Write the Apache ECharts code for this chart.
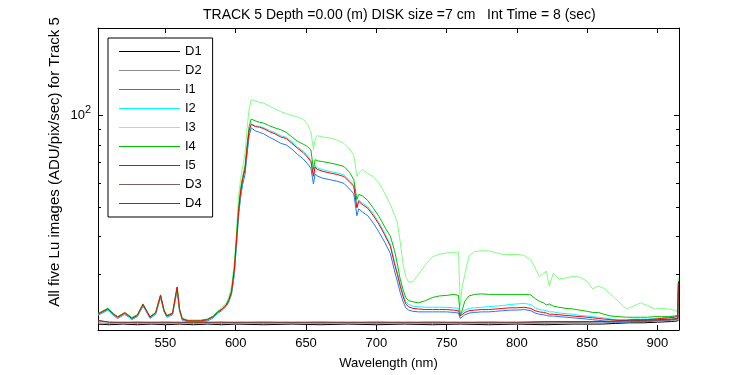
<!DOCTYPE html>
<html>
<head>
<meta charset="utf-8">
<script src="https://cdn.jsdelivr.net/npm/echarts@6/dist/echarts.min.js"></script>
<style>html,body{margin:0;padding:0;background:#fff}#c{width:750px;height:375px}</style>
</head>
<body>
<div id="c"></div>
<script>
var wl = [502,505,509,513,516,519,521,524,526,530,
534,536,539,543,546.5,549,551,555,558.3,560,
562,566,570,575,580,584,587,590,593,595,
597,599,600.6,602,603.5,605,606.6,608,609.5,611,
614,617,620,624,628,632,636,640,644,648,
651,653.5,655.3,656.5,658,662,667,672,677,681,
684,686.2,687.5,690,694,698,702,706,710,713,
715,717,719,721,723,726,730,735,740,745,
750,755,758.5,759.8,761,763,766,770,775,780,
785,790,795,800,805,810,813,816,819,821,
823,826,830,835,840,845,850,854,858,862,
867,872,878,883,888,893,898,903,908,912,
914.5,915];

var i5 = [22.2,22.6,23.1,22.2,21.7,22.1,22.4,21.9,21.5,22.0,
23.9,23.0,21.7,22.4,25.6,22.8,21.9,22.3,27.2,23.0,
21.4,21.1,21.1,21.1,21.3,21.8,22.5,23.0,23.7,24.6,
26.2,31.0,39.1,48.0,56.0,62.0,66.4,77.0,89.0,93.5,
92.0,91.5,90.5,88.5,87.0,85.0,84.0,81.0,78.0,75.5,
73.0,70.5,63.1,67.7,66.5,65.5,64.7,64.0,63.0,60.5,
58.5,49.7,52.2,51.0,49.5,46.8,43.8,40.5,37.2,32.5,
30.0,27.5,25.5,24.0,23.5,23.2,23.1,23.0,23.0,23.0,
23.0,22.9,22.8,21.9,22.2,22.5,22.8,22.9,23.0,23.0,
23.1,23.2,23.3,23.3,23.4,23.2,22.8,22.6,22.5,22.4,
22.2,22.2,22.1,22.0,21.9,21.8,21.7,21.6,21.5,21.4,
21.3,21.2,21.2,21.3,21.3,21.3,21.4,21.5,21.6,21.7,
21.8,28.5];

var i2 = [22.1,22.5,23.0,22.1,21.6,22.0,22.3,21.8,21.4,21.9,
23.8,22.9,21.6,22.3,25.4,22.7,21.8,22.2,26.8,22.9,
21.3,21.0,21.0,21.0,21.2,21.7,22.4,22.9,23.6,24.5,
26.0,30.5,38.5,47.5,55.5,61.5,66.5,77.5,89.5,94.0,
92.5,92.0,91.2,89.2,87.8,85.8,84.8,81.8,78.8,76.3,
73.8,71.2,63.5,68.5,67.3,66.3,65.5,64.8,63.8,61.3,
59.3,50.2,52.8,51.6,50.1,47.4,44.4,41.0,37.7,33.0,
30.4,27.9,25.9,24.4,23.9,23.6,23.5,23.4,23.4,23.4,
23.4,23.3,23.2,22.1,22.5,22.9,23.2,23.3,23.4,23.5,
23.6,23.7,23.9,24.0,24.1,23.9,23.3,23.0,22.9,22.8,
22.6,22.6,22.4,22.3,22.2,22.0,21.9,21.8,21.7,21.6,
21.4,21.3,21.3,21.4,21.4,21.4,21.5,21.6,21.7,21.8,
21.9,28.2];

var i1 = [22.0,22.4,22.9,22.0,21.5,21.9,22.2,21.7,21.3,21.8,
23.6,22.8,21.5,22.2,25.2,22.6,21.7,22.1,26.6,22.8,
21.2,21.0,21.0,21.0,21.1,21.6,22.3,22.8,23.5,24.3,
25.8,30.0,37.8,46.5,54.0,59.5,64.0,74.0,85.5,91.0,
89.0,88.0,87.0,84.8,83.0,81.0,80.0,77.5,74.5,72.0,
69.5,67.0,59.5,64.3,63.2,62.2,61.5,60.8,59.8,57.3,
55.3,46.8,49.3,48.2,46.8,44.2,41.3,38.3,35.2,30.8,
28.5,26.2,24.5,23.3,22.9,22.7,22.6,22.6,22.6,22.6,
22.6,22.5,22.4,21.5,21.8,22.1,22.4,22.5,22.6,22.6,
22.7,22.8,22.9,22.9,23.0,22.8,22.4,22.2,22.1,22.0,
21.9,21.9,21.8,21.7,21.6,21.5,21.4,21.3,21.2,21.1,
21.0,20.9,20.9,21.0,21.0,21.0,21.1,21.2,21.3,21.4,
21.5,28.0];

var i3 = [22.3,22.7,23.2,22.3,21.8,22.2,22.5,22.0,21.6,22.1,
24.0,23.1,21.8,22.5,25.7,22.9,22.0,22.4,27.3,23.1,
21.5,21.2,21.2,21.2,21.4,21.9,22.7,23.3,24.1,25.2,
27.5,33.0,42.0,54.3,62.0,68.0,75.3,89.8,105.0,112.6,
111.5,110.5,109.8,107.5,105.0,103.0,101.5,100.0,99.0,97.0,
93.5,88.5,77.2,83.5,85.8,85.0,84.3,83.0,81.0,77.5,
74.0,63.1,64.5,66.4,64.5,62.8,60.0,55.5,51.0,47.0,
44.5,38.5,32.5,29.5,28.3,28.4,30.0,32.3,34.3,35.0,
35.3,35.5,35.5,23.7,27.0,30.0,34.5,35.7,35.9,35.9,
35.4,34.9,34.9,34.9,34.7,33.5,31.5,29.5,30.2,30.8,
27.5,30.3,29.0,29.2,29.6,29.4,28.5,26.9,27.5,27.0,
25.8,24.5,23.1,23.6,24.2,23.7,23.1,23.2,23.1,22.9,
22.6,29.3];

var i4 = [22.3,22.7,23.2,22.3,21.8,22.2,22.5,22.0,21.6,22.1,
24.0,23.1,21.8,22.5,25.7,22.9,22.0,22.4,27.3,23.1,
21.5,21.2,21.2,21.2,21.4,21.9,22.6,23.1,23.8,24.8,
26.5,31.5,40.0,49.5,57.5,63.0,68.0,79.0,92.0,97.3,
96.0,95.0,94.4,92.5,91.0,89.8,88.0,85.0,82.2,80.5,
79.1,77.0,66.4,71.6,71.0,70.5,69.8,69.0,68.0,65.0,
61.5,52.9,55.0,54.5,52.5,49.5,46.5,43.0,40.1,36.0,
32.5,29.0,26.8,25.2,24.6,24.4,24.2,24.6,25.2,25.5,
25.6,25.8,25.6,21.9,22.8,24.5,25.5,25.8,25.9,25.8,
25.8,25.8,25.8,25.8,25.8,25.7,25.0,24.5,24.2,23.8,
24.0,23.6,23.4,23.2,23.1,22.9,22.7,22.5,22.5,22.2,
21.9,21.8,21.7,21.7,21.7,21.7,21.8,21.8,21.8,21.9,
22.0,28.0];

var dWl = [502,510,520,530,540,550,560,570,580,590,
600,620,640,660,680,700,720,740,760,780,
800,820,840,860,870,880,890,900,910,914.5,915];
var d1 = [20.6,20.5,20.6,20.5,20.6,20.5,20.6,20.5,20.6,20.5,
20.6,20.5,20.6,20.5,20.6,20.5,20.6,20.5,20.6,20.5,
20.6,20.5,20.6,20.6,20.7,20.8,20.8,20.9,21.0,21.1,21.3];
var d2 = [20.8,20.7,20.8,20.7,20.8,20.7,20.8,20.7,20.8,20.7,
20.8,20.7,20.8,20.7,20.8,20.7,20.8,20.7,20.8,20.7,
20.8,20.7,20.8,20.8,20.9,21.0,21.0,21.1,21.2,21.3,21.6];
var d3 = [21.1,20.9,20.8,20.9,20.8,20.9,20.8,20.9,20.8,20.9,
20.8,20.9,20.8,20.9,20.8,20.9,20.8,20.9,20.8,20.9,
20.8,20.9,20.9,21.0,21.0,21.1,21.2,21.2,21.3,21.4,22.0];
var d4 = [21.2,20.9,20.9,20.9,20.9,20.9,20.9,20.9,20.9,20.9,
20.9,20.9,20.9,20.9,20.9,20.9,20.9,20.9,20.9,20.9,
20.9,21.0,21.0,21.0,21.1,21.2,21.2,21.3,21.4,21.5,28.4];

var xTicks = [550,600,650,700,750,800,850,900];
var yMajor = [100];
var yMinor = [30,40,50,60,70,80,90];

var names = ['D1','D2','I1','I2','I3','I4','I5','D3','D4'];
var colors = ['#000000','#8c8c8c','#1e78ff','#00ffff','#80ff80','#00c000','#ff0000','#806060','#803030'];
var FONT = 'Liberation Sans, Arial, sans-serif';

function pairs(xs, ys){ return xs.map(function(x,i){ return [x, ys[i]]; }); }
var seriesData = {
  D1: pairs(dWl, d1), D2: pairs(dWl, d2),
  I1: pairs(wl, i1), I2: pairs(wl, i2), I3: pairs(wl, i3), I4: pairs(wl, i4), I5: pairs(wl, i5),
  D3: pairs(dWl, d3), D4: pairs(dWl, d4)
};

var XMIN = 502, XMAX = 915.4, YMIN = 19.7, YMAX = 194;
var black = {color:'#000', width:1};

function yAx(pos, ticks, len, showLine, showLabel){
  return {
    type:'log', logBase:10, min:YMIN, max:YMAX, position:pos,
    axisLine:{show:showLine, lineStyle:black},
    axisTick:{show:true, inside:true, length:len, customValues:ticks, lineStyle:black},
    axisLabel:{show:showLabel, customValues:ticks, margin:7, color:'#000', fontFamily:FONT, fontSize:13,
      formatter:function(v){ return '{b|10}{s|2}'; },
      rich:{ b:{fontSize:13, fontFamily:FONT, color:'#000'}, s:{fontSize:11, fontFamily:FONT, color:'#000', padding:[0,0,11,0]} } },
    splitLine:{show:false}, minorTick:{show:false}
  };
}

var legendData = names.map(function(n, i){
  return { name:n, icon:'path://M0,0H61V1H0Z',
    itemStyle:{ color:colors[i], borderWidth:0, borderColor:colors[i], opacity:1 } };
});

var chart = echarts.init(document.getElementById('c'), null, {renderer:'canvas'});
chart.setOption({
  animation:false,
  backgroundColor:'#fff',
  title:{ text:'TRACK 5 Depth =0.00 (m) DISK size =7 cm   Int Time = 8 (sec)', left:198, top:3,
    textStyle:{fontSize:14, fontWeight:'normal', color:'#000', fontFamily:FONT} },
  grid:{ left:98, right:71, top:28, bottom:44, containLabel:false },
  legend:{ orient:'vertical', left:108, top:38, padding:[7,11,7,11], itemWidth:61, itemHeight:13, itemGap:6,
    symbolKeepAspect:true, itemStyle:{borderWidth:0},
    borderColor:'#000', borderWidth:1, backgroundColor:'#fff', data:legendData,
    textStyle:{fontSize:13, color:'#000', fontFamily:FONT} },
  xAxis:[
    { type:'value', min:XMIN, max:XMAX, position:'bottom', name:'Wavelength (nm)', nameLocation:'middle', nameGap:27,
      nameTextStyle:{fontSize:13, color:'#000', fontFamily:FONT},
      axisLine:{show:true, lineStyle:black},
      axisTick:{show:true, inside:true, length:5, customValues:xTicks, lineStyle:black},
      axisLabel:{customValues:xTicks, margin:7, color:'#000', fontSize:13, fontFamily:FONT},
      splitLine:{show:false} },
    { type:'value', min:XMIN, max:XMAX, position:'top',
      axisLine:{show:true, lineStyle:black},
      axisTick:{show:true, inside:true, length:5, customValues:xTicks, lineStyle:black},
      axisLabel:{show:false}, splitLine:{show:false} }
  ],
  yAxis:[
    yAx('left', yMajor, 5, true, true),
    yAx('left', yMinor, 3, false, false),
    yAx('right', yMajor, 5, true, false),
    yAx('right', yMinor, 3, false, false)
  ],
  graphic:[{ type:'text', x:55, y:162, rotation:Math.PI/2,
    style:{ text:'All five Lu images (ADU/pix/sec) for Track 5', fontSize:15, fontFamily:FONT, fill:'#000',
      textAlign:'center', textVerticalAlign:'middle' } }],
  series: names.map(function(n, i){
    return { name:n, type:'line', xAxisIndex:0, yAxisIndex:0, data:seriesData[n], symbol:'none', showSymbol:false,
      lineStyle:{width:1, color:colors[i]}, itemStyle:{color:colors[i]}, emphasis:{disabled:true}, z:2+i };
  })
});
</script>
</body>
</html>
